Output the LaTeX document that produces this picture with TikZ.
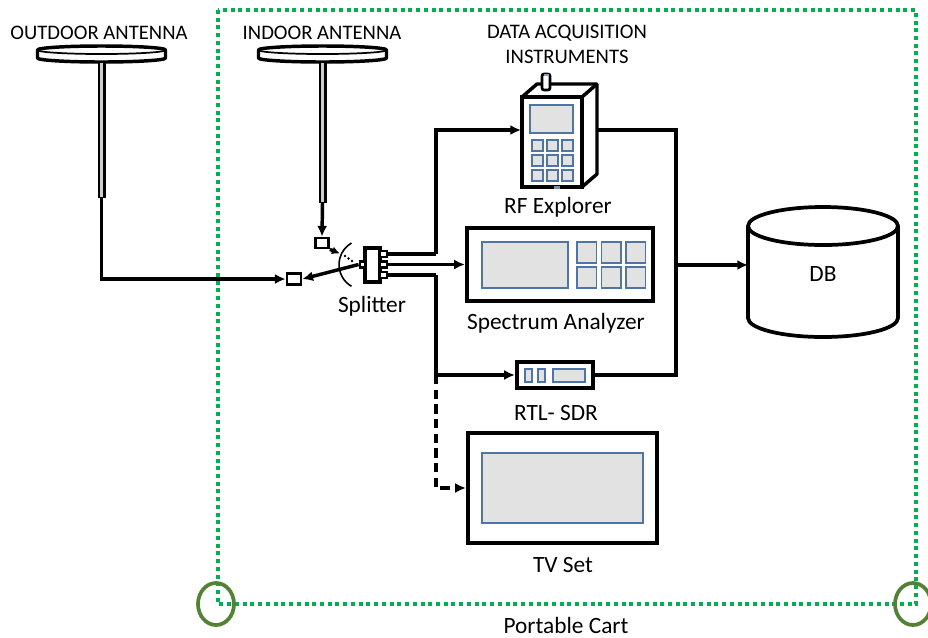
\documentclass[tikz,border=0pt]{standalone}
\usepackage{fontspec}
\setmainfont{Carlito}
\usetikzlibrary{arrows.meta,calc}
\definecolor{cartgreen}{HTML}{00B050}
\definecolor{wheelgreen}{HTML}{548235}
\definecolor{panel}{HTML}{E2E2E2}
\definecolor{panelblue}{HTML}{4F74A6}
\begin{document}
\begin{tikzpicture}[x=0.75pt,y=-0.75pt,
  sz/.style 2 args={minimum width=#1*0.75pt, minimum height=#2*0.75pt},
  dev/.style={draw, line width=3.2pt, fill=white, inner sep=0pt},
  port/.style={draw, line width=2.1pt, fill=white, inner sep=0pt},
  panelbox/.style={draw=panelblue, fill=panel, line width=1pt},
  wire/.style={line width=2.6pt},
  arr/.style={wire, -{Latex[length=8pt,width=7.5pt]}},
  dasharr/.style={arr, dash pattern=on 7pt off 4pt},
  lbl/.style={font=\fontsize{17.5}{21}\selectfont, inner sep=0pt},
  caps/.style={font=\fontsize{15.5}{19}\selectfont, inner sep=0pt},
  cart/.style={cartgreen, line width=3pt, dash pattern=on 3pt off 2.8pt},
  wheel/.style={wheelgreen, line width=2.8pt},
  dish/.style={line width=2.6pt, fill=white, line join=round},
  mast/.style={line width=6pt},
  mastcore/.style={white!80!black, line width=1.6pt}
]
\useasboundingbox (0,0) rectangle (928,637);

% ---- portable cart outline and wheels ----
\draw[cart] (218,10) rectangle (916,604);
\draw[wheel] (216,604) ellipse [x radius=18, y radius=21];
\draw[wheel] (913,604) ellipse [x radius=18, y radius=21];
\node[lbl] (cartlbl) at (566,625) {Portable Cart};

% ---- antennas ----
\foreach \cx/\len in {101.5/198, 322.5/203}{
  \draw[dish] (\cx-64,50) arc[start angle=180, end angle=360, x radius=64, y radius=4]
     -- (\cx+64,58) arc[start angle=0, end angle=180, x radius=64, y radius=4] -- cycle;
  \draw[line width=1.3pt] (\cx-64,50) arc[start angle=180, end angle=0, x radius=64, y radius=4];
  \draw[mast] (\cx,62) -- (\cx,\len);
  \draw[mastcore] (\cx,63) -- (\cx,\len-1.5);
}
\coordinate (outfoot) at (101.5,198);
\coordinate (infoot) at (322.5,203);
\node[caps] (outlbl) at (99,33) {OUTDOOR ANTENNA};
\node[caps] (inlbl) at (322,33) {INDOOR ANTENNA};

% ---- antenna selector and splitter ----
\node[port, sz={13}{10}] (ib) at (322,243) {};
\node[port, sz={14}{11}] (ob) at (294,279) {};
\node[dev, line width=2.6pt, sz={15}{34}] (sp) at (372.5,265) {};
\node[port, sz={7}{6}] (p1) at (383.5,254) {};
\node[port, sz={7}{6}] (p2) at (383.5,264.5) {};
\node[port, sz={7}{6}] (p3) at (383.5,275) {};
\node[port, sz={5}{6}] (pl) at (362.5,264.5) {};
\node[lbl] (splbl) at (372,306) {Splitter};

\draw[line width=1.2pt] (351.5,243) arc[start angle=240, end angle=120, radius=25];
\foreach \p in {(345,256),(348.5,258.5),(352,261)}
  \fill \p circle[radius=1.4];
\draw[wire, -{Latex[length=6pt,width=6pt]}] (ib.south east) -- ++(10,4);

\draw[arr] (infoot) -- (ib.north);
\draw[arr] (outfoot) |- (ob.west);
\draw[arr] (pl.west) -- (ob.east);

% ---- RF Explorer (handheld, drawn in 3D) ----
\draw[line width=2.6pt, fill=white, line join=round]
  (522,97) -- (537,84) -- (597,84) -- (597,174) -- (582,187) -- (582,97) -- cycle;
\draw[line width=2.6pt] (582,97) -- (597,84);
\draw[line width=2pt, fill=white, rounded corners=1.5pt] (542,74) rectangle (550,90);
\fill[panelblue!70] (543.5,73.5) rectangle (548.5,75.5);
\node[dev, line width=2.8pt, sz={60}{90}] (rfe) at (552,142) {};
\draw[panelbox] (530,105) rectangle (573,133);
\foreach \c in {0,1,2}
  \foreach \r in {0,1,2}
    \draw[panelbox] (532+15*\c,140+15*\r) rectangle ++(11,11);
\fill[panelblue!80] (554,185.8) rectangle (560,188.5);
\node[lbl] (rflbl) at (558,207) {RF Explorer};
\node[caps] (daqlbl) at (567,33) {DATA ACQUISITION};
\node[caps] (daqlbl2) at (567,57) {INSTRUMENTS};
\coordinate (rfin) at (521,130);
\coordinate (rfout) at (597,130);

% ---- Spectrum Analyzer ----
\node[dev, sz={186}{73}] (sa) at (560,264.5) {};
\draw[panelbox] (482,242) rectangle (568,288);
\foreach \c in {0,1,2}
  \foreach \r in {0,1}
    \draw[panelbox] (577+24.5*\c,242+25*\r) rectangle ++(19.5,21);
\node[lbl] (salbl) at (556,323) {Spectrum Analyzer};

% ---- RTL-SDR dongle ----
\node[dev, sz={76}{26}] (rtl) at (555,375) {};
\draw[panelbox] (525,369) rectangle (532,382);
\draw[panelbox] (538,369) rectangle (545,382);
\draw[panelbox] (553,369) rectangle (585,382);
\node[lbl] (rtllbl) at (556,413) {RTL- SDR};

% ---- TV set ----
\node[dev, sz={189}{110}] (tv) at (562.5,488) {};
\draw[panelbox] (482,453) rectangle (643,523);
\node[lbl] (tvlbl) at (563,565) {TV Set};

% ---- database ----
\draw[line width=2.8pt, fill=white]
  (748,226) arc[start angle=180, end angle=360, x radius=75, y radius=19]
  -- (898,318) arc[start angle=0, end angle=180, x radius=75, y radius=19] -- cycle;
\draw[line width=2.8pt] (748,226) arc[start angle=180, end angle=0, x radius=75, y radius=19];
\node[lbl] (db) at (823,274) {DB};
\coordinate (dbin) at (748,265);

% ---- signal routing ----
\coordinate (split) at (436,254);
\coordinate (splitlow) at (436,275);
\coordinate (branch) at (436,375);
\coordinate (collect) at (676,265);
\draw[wire] (p1.east) -- (split);
\draw[arr] (split) |- (rfin);
\draw[arr] (p2.east) -- (sa.west);
\draw[wire] (p3.east) -- (splitlow);
\draw[arr] (splitlow) |- (rtl.west);
\draw[dasharr] (branch) |- (tv.west);
\draw[wire] (rfout) -| (676,375) -- (rtl.east);
\draw[arr] (collect) -- (dbin);
\end{tikzpicture}
\end{document}
